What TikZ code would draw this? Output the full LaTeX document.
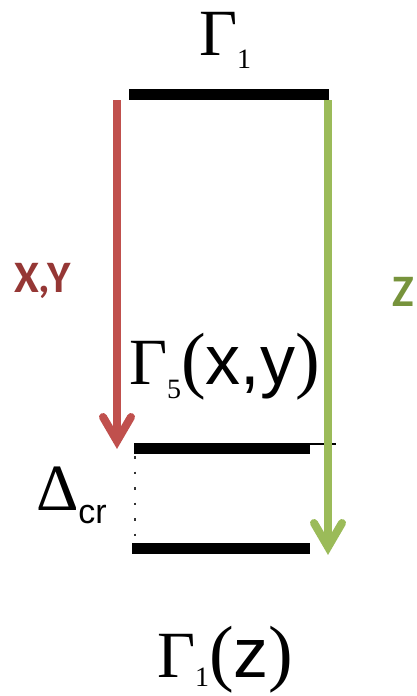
\documentclass[tikz,border=0pt]{standalone}
\usepackage{fontspec}
\setmainfont{Liberation Serif}
\newfontfamily\arifont{Liberation Sans}
\newfontfamily\calfont{Carlito}
\usetikzlibrary{calc}
\definecolor{redline}{HTML}{C0504D}
\definecolor{greenline}{HTML}{9BBB59}
\definecolor{xycol}{HTML}{953735}
\definecolor{zcol}{HTML}{77933C}
\newcommand\GmBig{\fontsize{66}{70}\selectfont}
\newcommand\subsz{\fontsize{28}{30}\selectfont}
\newcommand\prn[1]{{\fontsize{74}{76}\selectfont #1}}
\newcommand\argsz{\arifont\fontsize{70}{72}\selectfont}
\begin{document}
\begin{tikzpicture}[x=1pt,y=-1pt,
  level/.style={line width=11pt,black},
  shaft/.style={line width=8pt},
  tiparm/.style={line width=8pt,line cap=round,line join=miter},
  lbl/.style={anchor=base west,inner sep=0pt,outer sep=0pt},
  keylbl/.style={lbl,font=\calfont\bfseries\fontsize{45}{48}\selectfont}]
\useasboundingbox (0,0) rectangle (416,696);
% levels
\coordinate (t1) at (129,94.5); \coordinate (t2) at (329,94.5);
\draw[level] (t1) -- (t2);
\coordinate (m1) at (134,448); \coordinate (m2) at (310,448);
\draw[level] (m1) -- (m2);
\coordinate (m3) at (310,444); \coordinate (m4) at (336,444);
\draw[line width=1.5pt] (m3) -- (m4);
\coordinate (b1) at (132,548); \coordinate (b2) at (310,548);
\draw[level] (b1) -- (b2);
\coordinate (d1) at (135,456); \coordinate (d2) at (135,540);
\draw[black!80,line width=2.5pt,dash pattern=on 2.5pt off 13pt] (d1) -- (d2);
% red arrow
\coordinate (rs) at (117,100); \coordinate (re) at (117,441);
\draw[shaft,redline] (rs) -- (re);
\draw[tiparm,redline] ($(re)+(-14,-24)$) -- (re) -- ($(re)+(14,-24)$);
% green arrow
\coordinate (gs) at (328,100); \coordinate (ge) at (328,547);
\draw[shaft,greenline] (gs) -- (ge);
\draw[tiparm,greenline] ($(ge)+(-14,-24)$) -- (ge) -- ($(ge)+(14,-24)$);
% labels
\node[lbl] (g1) at (199,55) {\GmBig Γ\raisebox{-13pt}{\subsz 1}};
\node[lbl] (g5) at (129,384) {\GmBig Γ\raisebox{-14pt}{\subsz 5}\prn{(}{\argsz x,y}\prn{)}};
\node[lbl] (g1z) at (157,677) {\GmBig Γ\raisebox{-9pt}{\subsz 1}\prn{(}{\argsz z}\prn{)}};
\node[lbl] (dcr) at (36,510) {\GmBig Δ\raisebox{-13pt}{\arifont\fontsize{34}{36}\selectfont cr}};
\node[keylbl,text=xycol] (xy) at (14,292) {X,Y};
\node[keylbl,text=zcol] (zl) at (392,306) {Z};
\end{tikzpicture}
\end{document}
